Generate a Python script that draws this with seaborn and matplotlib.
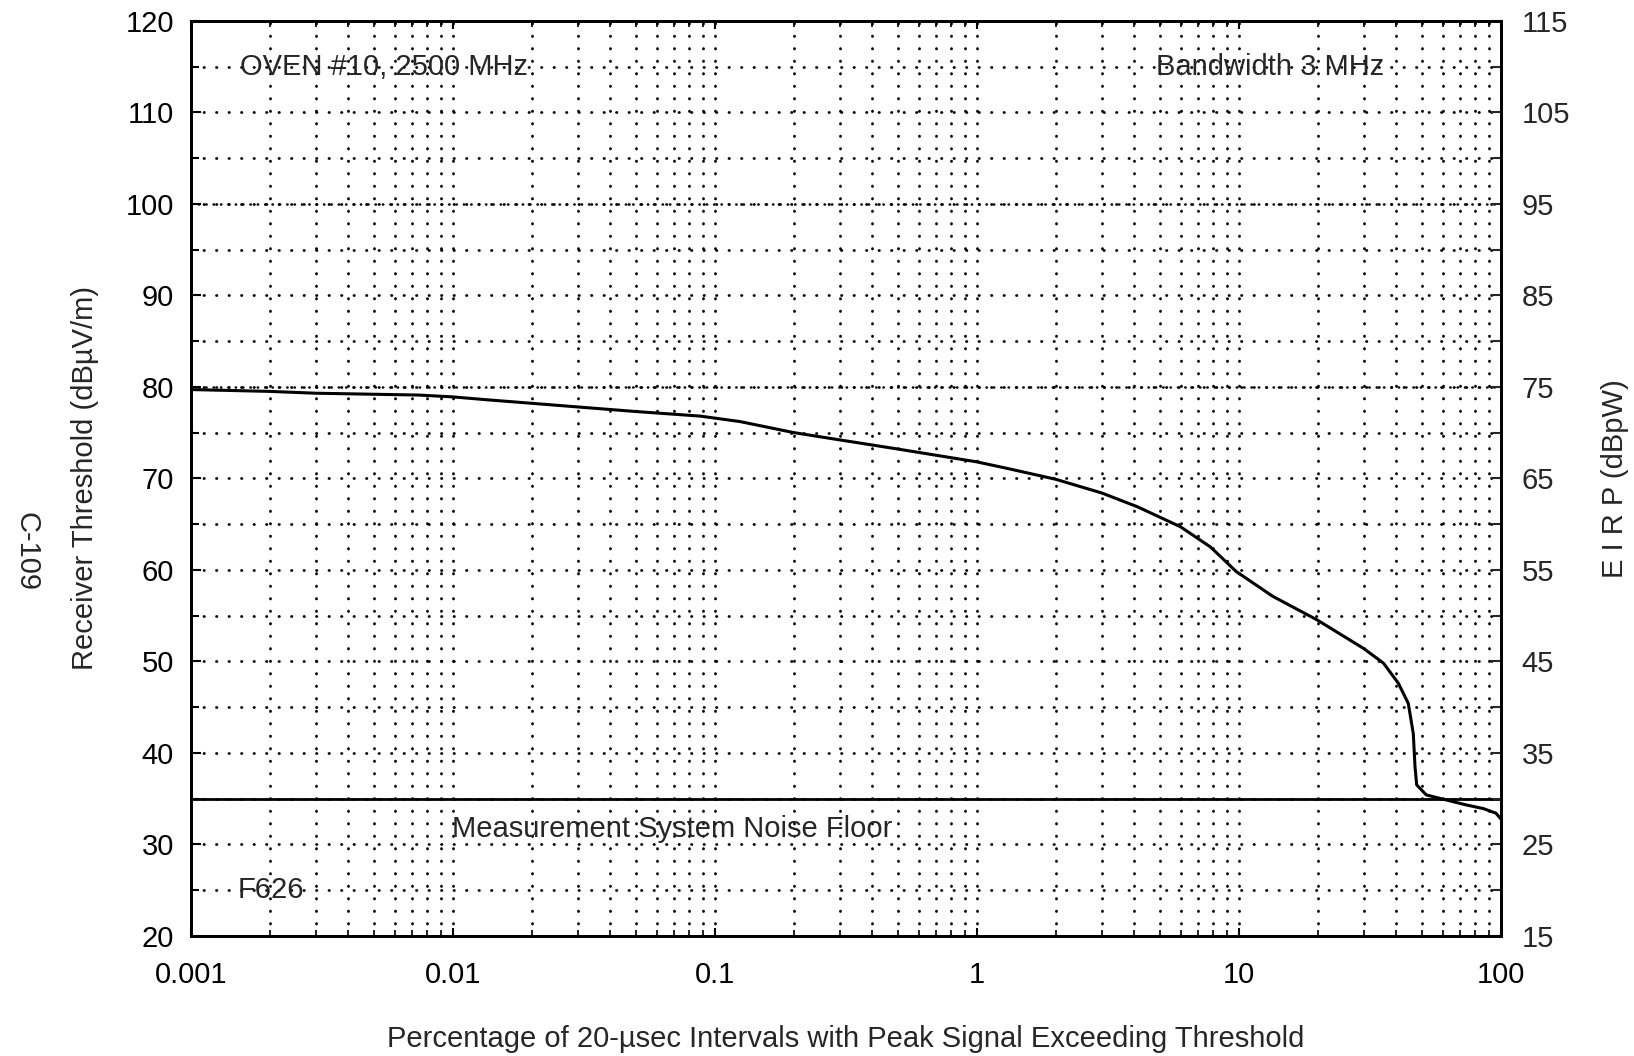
import numpy as np
import pandas as pd
import matplotlib
matplotlib.use("Agg")
import matplotlib.pyplot as plt
import seaborn as sns
from matplotlib.ticker import LogLocator, MultipleLocator, FixedLocator, NullFormatter

# ---------------- data ----------------
pct_exceeding = [0.001, 0.002, 0.003, 0.0074, 0.01, 0.0133, 0.02, 0.03, 0.05, 0.088,
                 0.125, 0.2, 0.3, 0.5, 1.0, 1.3, 2.0, 3.0, 4.1, 6.0, 7.8, 9.8, 13.5,
                 20, 30, 35.7, 40.7, 44.4, 46.4, 47.1, 47.8, 52, 60, 74, 86, 96, 100]
threshold_dbuv = [79.7, 79.5, 79.3, 79.1, 78.9, 78.6, 78.2, 77.8, 77.3, 76.8,
                  76.2, 75.0, 74.2, 73.2, 71.8, 71.1, 69.9, 68.4, 66.9, 64.7, 62.5, 59.8, 57.1,
                  54.5, 51.4, 49.8, 47.6, 45.4, 42.1, 38.5, 36.5, 35.4, 34.95, 34.3, 33.9, 33.4, 32.8]
noise_floor = 35
x_ticks = [0.001, 0.01, 0.1, 1, 10, 100]
x_tick_labels = ["0.001", "0.01", "0.1", "1", "10", "100"]
left_ticks = [20, 30, 40, 50, 60, 70, 80, 90, 100, 110, 120]
right_ticks = [15, 25, 35, 45, 55, 65, 75, 85, 95, 105, 115]
dense_rows = [80, 100]

title_left = "OVEN #10, 2500 MHz"
title_right = "Bandwidth 3 MHz"
noise_label = "Measurement System Noise Floor"
fig_id = "F626"
page_id = "C-109"
xlabel = "Percentage of 20-\u00b5sec Intervals with Peak Signal Exceeding Threshold"
ylabel_left = "Receiver Threshold (dB\u00b5V/m)"
ylabel_right = "E I R P (dBpW)"

df = pd.DataFrame({"pct": pct_exceeding, "thr": threshold_dbuv})

# ---------------- style ----------------
sns.set_style("ticks")
plt.rcParams["font.family"] = ["Liberation Sans Narrow", "Liberation Sans", "DejaVu Sans"]
plt.rcParams["lines.scale_dashes"] = False
plt.rcParams["lines.dash_capstyle"] = "round"
FS = 21

fig = plt.figure(figsize=(16.34, 10.56), dpi=100)
ax = fig.add_axes([0.1167, 0.1138, 0.8017, 0.8665])

sns.lineplot(data=df, x="pct", y="thr", ax=ax, color="black", linewidth=2.2, sort=True)
ax.axhline(noise_floor, color="black", linewidth=2.0)

ax.set_xscale("log")
ax.set_xlim(0.001, 100)
ax.set_ylim(20, 120)

ax.xaxis.set_major_locator(FixedLocator(x_ticks))
ax.set_xticklabels(x_tick_labels)
ax.xaxis.set_minor_locator(LogLocator(base=10, subs=np.arange(2, 10)))
ax.xaxis.set_minor_formatter(NullFormatter())
ax.yaxis.set_major_locator(FixedLocator(left_ticks))
ax.yaxis.set_minor_locator(MultipleLocator(5))

ax.grid(which="both", color="black", linestyle=(0, (0.3, 8.7)), linewidth=2.0)
for r in dense_rows:
    ax.axhline(r, color="black", linestyle=(0, (0.3, 5.0)), linewidth=1.8, zorder=1)

ax.tick_params(axis="both", which="both", direction="in", colors="black",
               labelsize=FS, top=True)
ax.tick_params(axis="y", which="major", length=7, width=1.5, pad=12)
ax.tick_params(axis="y", which="minor", length=6, width=1.5)
ax.tick_params(axis="x", which="major", length=6, width=1.5, pad=18)
ax.tick_params(axis="x", which="minor", length=4, width=1.2)

for s in ax.spines.values():
    s.set_linewidth(2.0)
    s.set_color("black")

ax.set_xlabel(xlabel, fontsize=FS, labelpad=26)
ax.set_ylabel(ylabel_left, fontsize=FS, labelpad=19)

ax2 = ax.twinx()
ax2.set_ylim(15, 115)
ax2.yaxis.set_major_locator(FixedLocator(right_ticks))
ax2.yaxis.set_minor_locator(MultipleLocator(5))
ax2.tick_params(axis="y", which="major", direction="in", length=7, width=1.5,
                labelsize=FS, pad=15)
ax2.tick_params(axis="y", which="minor", direction="in", length=6, width=1.5)
ax2.set_ylabel(ylabel_right, fontsize=FS, labelpad=22)
for s in ax2.spines.values():
    s.set_linewidth(2.0)
    s.set_color("black")

ax.text(0.00154, 115, title_left, fontsize=FS, ha="left", va="center")
ax.text(35.9, 115, title_right, fontsize=FS, ha="right", va="center")
ax.text(0.0099, 31.7, noise_label, fontsize=FS, ha="left", va="center")
ax.text(0.00151, 25, fig_id, fontsize=FS, ha="left", va="center")

fig.text(26 / 1634, 1 - 552 / 1056, page_id, fontsize=FS, rotation=-90,
         ha="center", va="center")

fig.savefig("out.png", dpi=100)
